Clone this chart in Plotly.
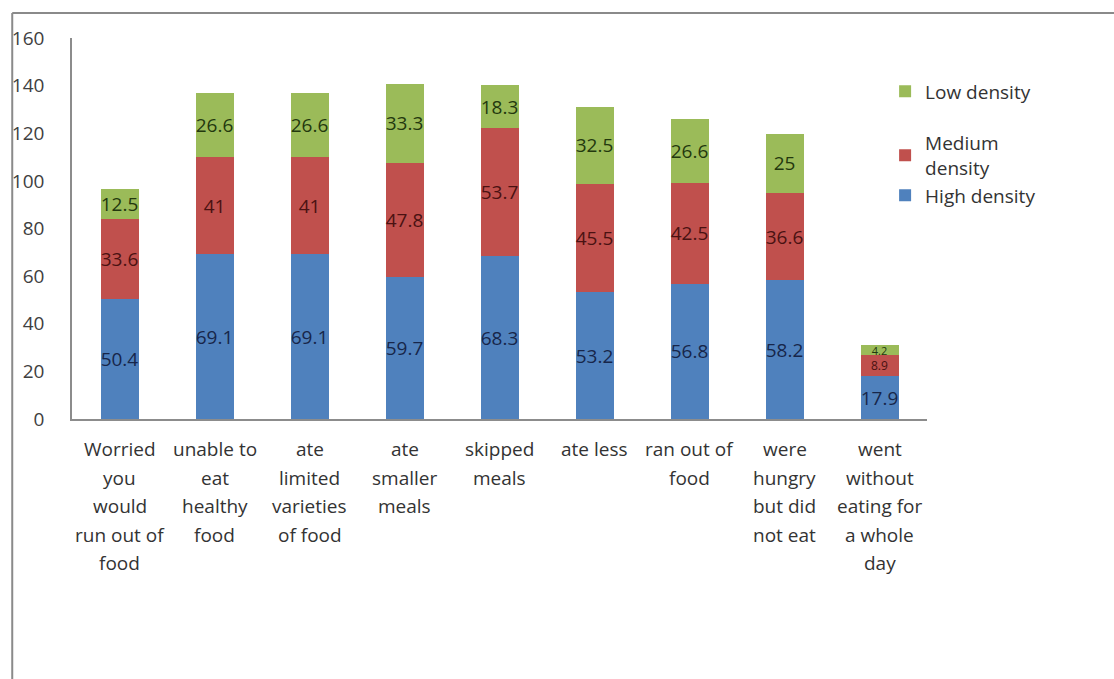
import plotly.graph_objects as go

# Food insecurity experiences by neighbourhood density (stacked values)
categories = [
    "Worried<br>you<br>would<br>run out of<br>food",
    "unable to<br>eat<br>healthy<br>food",
    "ate<br>limited<br>varieties<br>of food",
    "ate<br>smaller<br>meals",
    "skipped<br>meals",
    "ate less",
    "ran out of<br>food",
    "were<br>hungry<br>but did<br>not eat",
    "went<br>without<br>eating for<br>a whole<br>day",
]
high_density = [50.4, 69.1, 69.1, 59.7, 68.3, 53.2, 56.8, 58.2, 17.9]
medium_density = [33.6, 41, 41, 47.8, 53.7, 45.5, 42.5, 36.6, 8.9]
low_density = [12.5, 26.6, 26.6, 33.3, 18.3, 32.5, 26.6, 25, 4.2]
y_ticks = [0, 20, 40, 60, 80, 100, 120, 140, 160]

FONT = "Open Sans, Lato, DejaVu Sans, sans-serif"
x_idx = list(range(len(categories)))


def label_sizes(vals):
    # thin segments get a smaller label so neighbouring labels stay apart
    return [(11 if v < 5 else 12) if v < 10 else 19 for v in vals]


series = [
    ("High density", high_density, "#4F81BD", "#17264a", "b"),
    ("Medium<br>density", medium_density, "#C0504D", "#4a1212", "b"),
    ("Low density", low_density, "#9BBB59", "#23380e", "a"),
]

fig = go.Figure()
for rank, (name, vals, color, txtcolor, grp) in zip([3, 2, 1], series):
    fig.add_trace(go.Bar(
        x=x_idx,
        y=vals,
        name=name,
        marker=dict(color=color, line=dict(width=0)),
        width=0.4,
        text=[f"{v:g}" for v in vals],
        textposition="inside",
        insidetextanchor="middle",
        textangle=0,
        constraintext="none",
        textfont=dict(family=FONT, size=label_sizes(vals), color=txtcolor),
        legendgroup=grp,
        legendrank=rank,
        hoverinfo="skip",
    ))

# Multi-line category labels under each bar
annotations = []
for i, label in enumerate(categories):
    for j, line in enumerate(label.split("<br>")):
        annotations.append(dict(
            x=i, y=0, xref="x", yref="y",
            text=line, showarrow=False,
            xanchor="center", yanchor="middle",
            yshift=-30 - 28.5 * j,
            font=dict(family=FONT, size=19, color="#333333"),
        ))

# Outer frame (top and left edges)
shapes = [
    dict(type="line", xref="paper", yref="paper",
         x0=-0.0699, x1=1.3, y0=1.0656, y1=1.0656,
         line=dict(color="#8a8a8a", width=2)),
    dict(type="line", xref="paper", yref="paper",
         x0=-0.0699, x1=-0.0699, y0=1.0656, y1=-0.8,
         line=dict(color="#8a8a8a", width=2)),
]

fig.update_layout(
    barmode="stack",
    width=1114,
    height=679,
    margin=dict(l=69, r=187, t=38, b=260),
    paper_bgcolor="white",
    plot_bgcolor="white",
    font=dict(family=FONT, size=19, color="#333333"),
    showlegend=True,
    legend=dict(
        x=0.951, y=0.91, xanchor="left", yanchor="top",
        traceorder="grouped",
        tracegroupgap=24,
        font=dict(family=FONT, size=19, color="#333333"),
        bgcolor="rgba(0,0,0,0)",
        itemwidth=30,
    ),
    xaxis=dict(
        range=[-0.5, len(categories) - 0.5],
        showticklabels=False,
        ticks="",
        showgrid=False,
        zeroline=False,
        showline=True,
        linecolor="#8c8c8c",
        linewidth=1.5,
    ),
    yaxis=dict(
        range=[0, 160],
        tickvals=y_ticks,
        ticktext=[str(v) for v in y_ticks],
        ticks="",
        showgrid=False,
        zeroline=False,
        showline=True,
        linecolor="#8c8c8c",
        linewidth=1.5,
        ticklabelstandoff=22,
        tickfont=dict(family=FONT, size=19, color="#404040"),
    ),
    annotations=annotations,
    shapes=shapes,
)

fig.write_html("out.html")
